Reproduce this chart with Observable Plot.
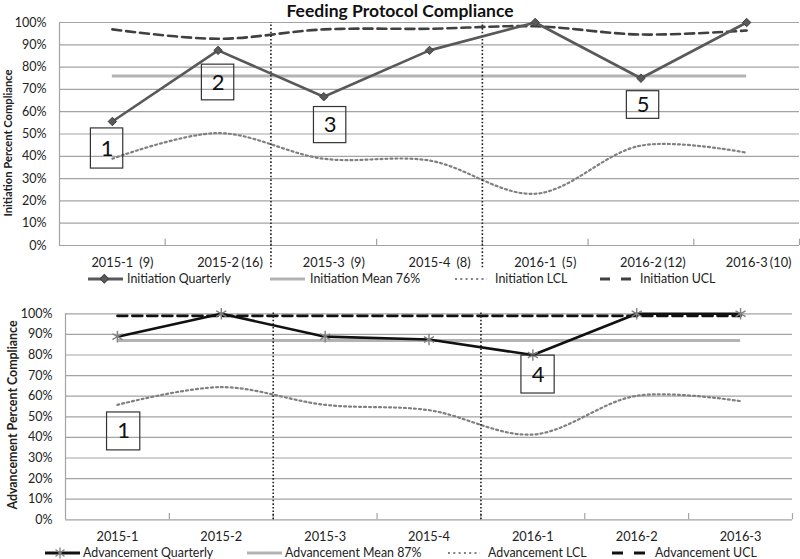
<!DOCTYPE html>
<html>
<head>
<meta charset="utf-8">
<script src="https://cdn.jsdelivr.net/npm/d3@7"></script>
<script src="https://cdn.jsdelivr.net/npm/@observablehq/plot@0.6"></script>
<style>
  html, body { margin: 0; padding: 0; background: #fff; }
  #chart { position: relative; width: 800px; height: 559px; font-family: Lato, "Open Sans", sans-serif; color: #222; overflow: hidden; }
  .abs { position: absolute; }
  .title { left: 0; width: 800px; top: 0px; line-height: normal; text-align: center; font-weight: bold; font-size: 17.5px; color: #111; }
  .ytitle { font-weight: bold; white-space: nowrap; transform: translate(-50%, -50%) rotate(-90deg); color: #222; }
  .leg { font-size: 12.4px; line-height: 1; white-space: nowrap; transform: translateY(-50%); color: #222; }
  .sw { transform: translateY(-50%); }
</style>
</head>
<body>
<div id="chart"></div>
<script>
// ---------- data ----------
const categories = ["2015-1", "2015-2", "2015-3", "2015-4", "2016-1", "2016-2", "2016-3"];
const initCounts = [9, 16, 9, 8, 5, 12, 10];

const initQuarterly = [55.6, 87.5, 66.7, 87.5, 100, 75, 100];
const initMean = 76;
const initLCL = [38.9, 50.4, 38.9, 38.1, 23.2, 44.8, 41.6];
const initUCL = [96.9, 92.7, 96.9, 97.2, 98.3, 94.6, 96.4];

const advQuarterly = [88.9, 100, 88.9, 87.5, 80, 100, 100];
const advMean = 87;
const advLCL = [55.8, 64.4, 55.8, 53.2, 41.4, 60.2, 57.6];
const advUCL = [99, 99, 99, 99, 99, 99, 99];

const yTicks = [0, 10, 20, 30, 40, 50, 60, 70, 80, 90, 100];

const initLegend = ["Initiation Quarterly", "Initiation Mean 76%", "Initiation LCL", "Initiation UCL"];
const advLegend = ["Advancement Quarterly", "Advancement Mean 87%", "Advancement LCL", "Advancement UCL"];

// annotation boxes: label, centre position (category index), centre value, box extents
const initNoteLabel = ["1", "2", "3", "5"];
const initNoteX = [-0.05, 1.0, 2.06, 5.02];
const initNoteY = [43.5, 73.1, 54.0, 63.0];
const initNoteH = [9.0, 8.0, 8.1, 6.2];

const advNoteLabel = ["1", "4"];
const advNoteX = [0.06, 4.05];
const advNoteY = [42.9, 70.5];
const advNoteH = [9.2, 9.2];

// ---------- helpers ----------
const chart = document.getElementById("chart");
const idx = d3.range(categories.length);

function notesOf(labels, xs, ys, hs, halfW) {
  return labels.map((t, i) => ({t, x: xs[i], y: ys[i], x1: xs[i] - halfW, x2: xs[i] + halfW, y1: ys[i] - hs[i], y2: ys[i] + hs[i]}));
}

function panel(o) {
  const marks = [
    Plot.ruleY(yTicks, {stroke: "#a3a3a3", strokeWidth: 1.2}),
    Plot.ruleX([-0.5], {y1: 0, y2: 100, stroke: "#a3a3a3", strokeWidth: 1.2}),
    Plot.ruleX(d3.range(0.5, 7, 1), {y1: 0, y2: o.tickLen, stroke: "#a3a3a3", strokeWidth: 1.2}),
    Plot.ruleY([o.mean], {x1: 0, x2: 6, stroke: "#b3b3b3", strokeWidth: 3}),
    Plot.line(idx, {x: i => i, y: i => o.lcl[i], curve: "catmull-rom", stroke: "#808080", strokeWidth: 2.2, strokeDasharray: "2,3"}),
    Plot.line(idx, {x: i => i, y: i => o.ucl[i], curve: "catmull-rom", stroke: o.uclColor, strokeWidth: 2.6, strokeDasharray: o.uclDash}),
    Plot.ruleX([1.5, 3.5], {y1: o.dotBottom, y2: o.dotTop, stroke: "#222", strokeWidth: 1.6, strokeDasharray: "1.6,2"}),
    Plot.line(idx, {x: i => i, y: i => o.quarterly[i], stroke: o.qColor, strokeWidth: 2.6}),
    Plot.dot(idx, {x: i => i, y: i => o.quarterly[i], symbol: o.symbol, r: o.symR, fill: o.symFill, stroke: o.symStroke, strokeWidth: o.symStrokeW}),
    Plot.rect(o.notes, {x1: "x1", x2: "x2", y1: "y1", y2: "y2", fill: "none", stroke: "#333", strokeWidth: 1.2}),
    Plot.text(o.notes, {x: "x", y: "y", text: "t", fontSize: 22, fill: "#111"}),
    Plot.axisY({ticks: yTicks, tickFormat: d => d + "%", tickSize: 0, tickPadding: 13, label: null, fontSize: 12.5, fill: "#222"}),
    Plot.axisX({ticks: idx, tickFormat: i => categories[i], tickSize: 0, tickPadding: o.xPad, label: null, fontSize: 12.8, fill: "#222"})
  ];
  if (o.counts) {
    marks.push(Plot.text(o.counts, {x: (d, i) => i, y: 0, text: d => `(${d})`, dx: 34, dy: o.xPad, lineAnchor: "top", fontSize: 12.8, fill: "#222"}));
  }
  const svg = Plot.plot({
    width: 800, height: o.height,
    marginTop: o.mt, marginBottom: o.mb, marginLeft: o.ml, marginRight: o.mr,
    x: {type: "linear", domain: [-0.5, 6.5], axis: null},
    y: {domain: [0, 100], axis: null},
    style: {fontFamily: "Lato, 'Open Sans', sans-serif", background: "transparent", overflow: "visible"},
    marks
  });
  svg.style.position = "absolute";
  svg.style.left = "0px";
  svg.style.top = o.top + "px";
  chart.appendChild(svg);
}

function addDiv(cls, html, style) {
  const d = document.createElement("div");
  d.className = "abs " + cls;
  d.innerHTML = html;
  Object.assign(d.style, style);
  chart.appendChild(d);
  return d;
}

function swatch(left, top, w, line, marker) {
  const s = `<svg width="${w}" height="14" style="display:block;overflow:visible">
    <line x1="0" y1="7" x2="${w}" y2="7" stroke="${line.c}" stroke-width="${line.w}" ${line.dash ? `stroke-dasharray="${line.dash}"` : ""}/>
    ${marker || ""}</svg>`;
  addDiv("sw", s, {left: left + "px", top: top + "px"});
}

// ---------- title ----------
addDiv("title", "Feeding Protocol Compliance", {});

// ---------- top panel ----------
panel({
  top: 0, height: 270, mt: 22, mb: 25, ml: 59, mr: 1,
  quarterly: initQuarterly, mean: initMean, lcl: initLCL, ucl: initUCL,
  uclColor: "#404040", uclDash: "9,5", qColor: "#595959",
  symbol: "diamond2", symR: 3.8, symFill: "#595959", symStroke: "#404040", symStrokeW: 1,
  notes: notesOf(initNoteLabel, initNoteX, initNoteY, initNoteH, 0.153),
  counts: initCounts, xPad: 12.5, tickLen: 2.8, dotBottom: -10, dotTop: 100
});
addDiv("ytitle", "Initiation Percent Compliance", {left: "7px", top: "143px", fontSize: "11.2px"});

// ---------- bottom panel ----------
panel({
  top: 290, height: 255, mt: 23.3, mb: 25.7, ml: 65, mr: 8,
  quarterly: advQuarterly, mean: advMean, lcl: advLCL, ucl: advUCL,
  uclColor: "#111", uclDash: "10,5", qColor: "#111",
  symbol: "asterisk", symR: 5.5, symFill: "none", symStroke: "#808080", symStrokeW: 1.4,
  notes: notesOf(advNoteLabel, advNoteX, advNoteY, advNoteH, 0.16),
  counts: null, xPad: 12.5, tickLen: 3, dotBottom: 0, dotTop: 101
});
addDiv("ytitle", "Advancement Percent Compliance", {left: "12px", top: "415px", fontSize: "12.4px"});

// ---------- legends ----------
const ty = 278.5, by = 553;
swatch(88, ty, 35, {c: "#595959", w: 3}, `<rect x="14" y="3" width="6" height="6" transform="rotate(45 17 6) translate(0 1)" fill="#595959" stroke="#404040"/>`);
addDiv("leg", initLegend[0], {left: "127px", top: ty + "px"});
swatch(270, ty, 35, {c: "#b3b3b3", w: 3});
addDiv("leg", initLegend[1], {left: "310px", top: ty + "px"});
swatch(455, ty, 32, {c: "#808080", w: 2.2, dash: "2,3.3"});
addDiv("leg", initLegend[2], {left: "495px", top: ty + "px"});
swatch(600, ty, 31, {c: "#404040", w: 3, dash: "10,11"});
addDiv("leg", initLegend[3], {left: "640px", top: ty + "px"});

swatch(45, by, 35, {c: "#111", w: 3}, `<g stroke="#808080" stroke-width="1.3"><line x1="15" y1="1.5" x2="15" y2="12.5"/><line x1="10.5" y1="3.5" x2="19.5" y2="10.5"/><line x1="10.5" y1="10.5" x2="19.5" y2="3.5"/></g>`);
addDiv("leg", advLegend[0], {left: "83px", top: by + "px"});
swatch(247, by, 35, {c: "#b3b3b3", w: 3});
addDiv("leg", advLegend[1], {left: "285px", top: by + "px"});
swatch(448, by, 32, {c: "#808080", w: 2.2, dash: "2,3.3"});
addDiv("leg", advLegend[2], {left: "488px", top: by + "px"});
swatch(612, by, 33, {c: "#111", w: 3, dash: "11,11"});
addDiv("leg", advLegend[3], {left: "655px", top: by + "px"});
</script>
</body>
</html>
